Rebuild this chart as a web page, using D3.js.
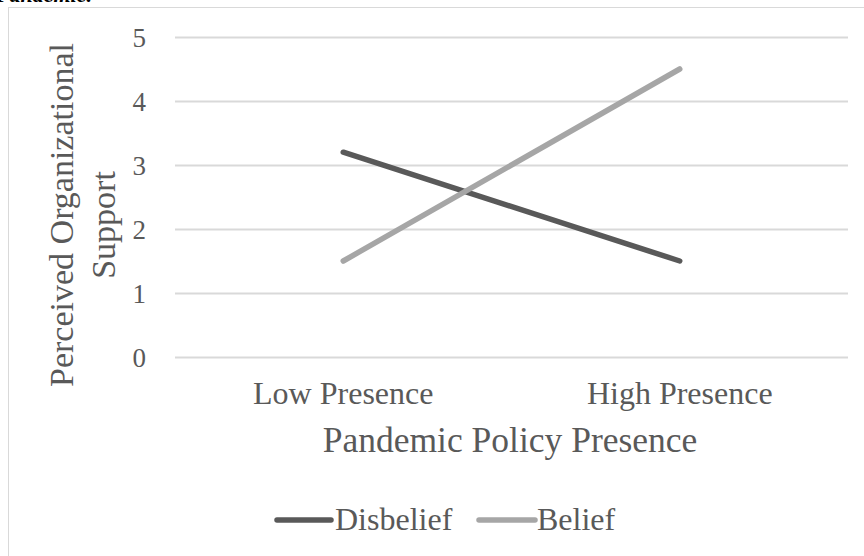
<!DOCTYPE html>
<html>
<head>
<meta charset="utf-8">
<script src="https://cdn.jsdelivr.net/npm/d3@7/dist/d3.min.js"></script>
<style>
  html, body { margin: 0; padding: 0; background: #fff; }
  svg { display: block; }
  text { font-family: "Liberation Serif", "Times New Roman", serif; fill: #595959; }
</style>
</head>
<body>
<svg id="chart" width="864" height="556"></svg>
<script>
// Interaction plot: perceived organizational support by policy presence
const categories = ["Low Presence", "High Presence"];
const disbelief = [3.2, 1.5];
const belief = [1.5, 4.5];
const yTicks = [0, 1, 2, 3, 4, 5];
const seriesNames = ["Disbelief", "Belief"];
const seriesColors = ["#595959", "#a6a6a6"];

const series = [
  { name: seriesNames[0], values: disbelief, color: seriesColors[0] },
  { name: seriesNames[1], values: belief, color: seriesColors[1] }
];

const svg = d3.select("#chart");

// caption line running above the chart frame
svg.append("text")
  .attr("x", -4).attr("y", 2)
  .style("font-style", "italic").style("font-weight", "bold")
  .style("font-size", "22px").style("fill", "#000")
  .text("Pandemic.");

// chart frame
svg.append("rect")
  .attr("x", 8.5).attr("y", 7.5)
  .attr("width", 880).attr("height", 580)
  .attr("fill", "#fff").attr("stroke", "#d9d9d9").attr("stroke-width", 1);

const plot = { left: 175, right: 848, top: 37, bottom: 357 };

const x = d3.scaleBand().domain(categories).range([plot.left, plot.right]);
const y = d3.scaleLinear().domain([0, 5]).range([plot.bottom, plot.top]);

// horizontal gridlines
svg.append("g")
  .selectAll("line")
  .data(yTicks)
  .join("line")
  .attr("x1", plot.left).attr("x2", plot.right)
  .attr("y1", d => Math.round(y(d)) + 0.5).attr("y2", d => Math.round(y(d)) + 0.5)
  .attr("stroke", "#d9d9d9").attr("stroke-width", 2);

// y axis tick labels
const yAxis = d3.axisLeft(y).tickValues(yTicks).tickFormat(d3.format("d")).tickSize(0).tickPadding(0);
const yg = svg.append("g").attr("transform", `translate(${plot.left - 29},0)`).call(yAxis);
yg.select(".domain").remove();
yg.selectAll("text")
  .style("font-size", "27px")
  .style("font-family", "Liberation Serif, serif")
  .attr("fill", "#595959")
  .attr("dy", "0.34em");

// x axis category labels
const xAxis = d3.axisBottom(x).tickSize(0).tickPadding(0);
const xg = svg.append("g").attr("transform", `translate(0,${plot.bottom + 47})`).call(xAxis);
xg.select(".domain").remove();
xg.selectAll("text")
  .style("font-size", "32px")
  .style("font-family", "Liberation Serif, serif")
  .attr("fill", "#595959")
  .attr("dy", 0);

// axis titles
svg.append("text")
  .attr("x", 510).attr("y", 452)
  .attr("text-anchor", "middle")
  .style("font-size", "35.5px")
  .text("Pandemic Policy Presence");

const yTitle = svg.append("text")
  .attr("transform", "translate(73,215) rotate(-90)")
  .attr("text-anchor", "middle")
  .style("font-size", "34px");
yTitle.append("tspan").attr("x", 0).attr("y", 0).text("Perceived Organizational");
yTitle.append("tspan").attr("x", -10).attr("y", 42).text("Support");

// series lines
const line = d3.line()
  .x((d, i) => x(categories[i]) + x.bandwidth() / 2)
  .y(d => y(d));

svg.append("g")
  .selectAll("path")
  .data(series)
  .join("path")
  .attr("d", d => line(d.values))
  .attr("fill", "none")
  .attr("stroke", d => d.color)
  .attr("stroke-width", 5.5)
  .attr("stroke-linecap", "round")
  .attr("stroke-linejoin", "round");

// legend
const legendItems = [
  { s: series[0], x0: 277, x1: 331, tx: 335 },
  { s: series[1], x0: 479, x1: 535, tx: 537 }
];
const lg = svg.append("g");
legendItems.forEach(item => {
  lg.append("line")
    .attr("x1", item.x0).attr("x2", item.x1)
    .attr("y1", 520).attr("y2", 520)
    .attr("stroke", item.s.color).attr("stroke-width", 5.5)
    .attr("stroke-linecap", "round");
  lg.append("text")
    .attr("x", item.tx).attr("y", 530)
    .style("font-size", "32px")
    .text(item.s.name);
});
</script>
</body>
</html>
